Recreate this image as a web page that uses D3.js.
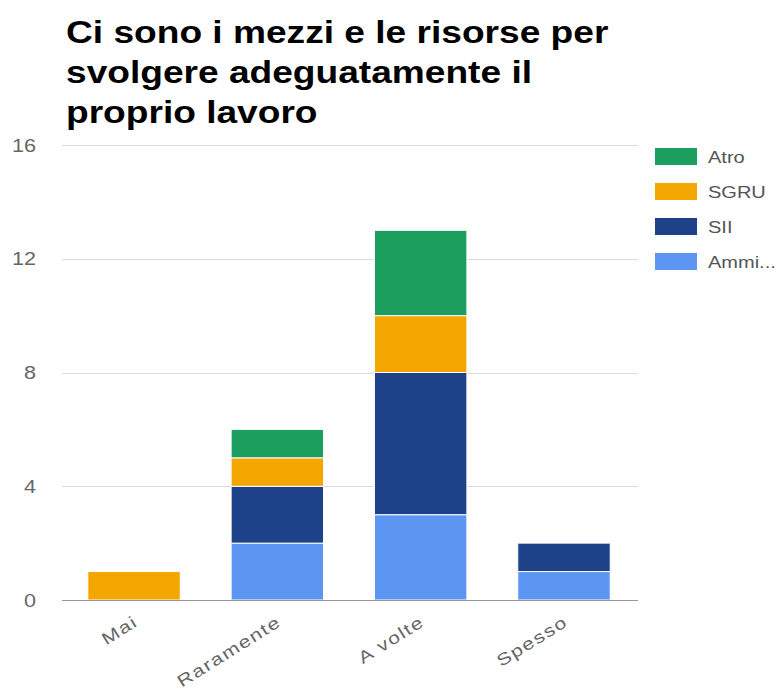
<!DOCTYPE html>
<html>
<head>
<meta charset="utf-8">
<script src="https://cdn.jsdelivr.net/npm/d3@7"></script>
<style>
  html, body { margin: 0; padding: 0; background: #fff; }
  svg { display: block; font-family: "Liberation Sans", Arial, sans-serif; }
</style>
</head>
<body>
<svg id="chart" width="778" height="696"></svg>
<script>
// Answers per frequency, stacked by office
const categories = ["Mai", "Raramente", "A volte", "Spesso"];
const seriesNames = ["Ammi...", "SII", "SGRU", "Atro"];
const ammi = [0, 2, 3, 1];
const sii  = [0, 2, 5, 1];
const sgru = [1, 1, 2, 0];
const atro = [0, 1, 3, 0];
const yTicks = [0, 4, 8, 12, 16];
const titleLines = ["Ci sono i mezzi e le risorse per", "svolgere adeguatamente il", "proprio lavoro"];

const colors = {"Ammi...": "#5c95f2", "SII": "#1d428a", "SGRU": "#f3a600", "Atro": "#1b9e5e"};
const valuesBySeries = {"Ammi...": ammi, "SII": sii, "SGRU": sgru, "Atro": atro};

const rows = categories.map((c, i) => {
  const r = {cat: c};
  seriesNames.forEach(s => r[s] = valuesBySeries[s][i]);
  return r;
});

const svg = d3.select("#chart");
const margin = {left: 62, right: 142, top: 145, bottom: 96};
const W = 778, H = 696;
const wide = 1.2; // horizontal stretch of the lettering

const x = d3.scaleBand().domain(categories)
  .range([margin.left, W - margin.right]).paddingInner(0.355).paddingOuter(0.18);
const y = d3.scaleLinear().domain([0, 16]).range([H - margin.bottom, margin.top]);

// Title
svg.append("g").selectAll("text").data(titleLines).join("text")
  .attr("transform", (d, i) => `translate(66,${43 + i * 40}) scale(1.16,1)`)
  .attr("font-size", 32).attr("font-weight", "bold").attr("fill", "#000")
  .text(d => d);

// Gridlines
svg.append("g").selectAll("line").data(yTicks).join("line")
  .attr("x1", margin.left).attr("x2", W - margin.right + 2)
  .attr("y1", d => Math.round(y(d)) + 0.5).attr("y2", d => Math.round(y(d)) + 0.5)
  .attr("stroke", d => d === 0 ? "none" : "#dcdcdc");

// Y labels
svg.append("g").selectAll("text").data(yTicks).join("text")
  .attr("transform", d => `translate(36,${y(d) + 6.5}) scale(${wide},1)`)
  .attr("text-anchor", "end").attr("font-size", 18).attr("fill", "#666")
  .text(d => d);

// Stacked bars
const stack = d3.stack().keys(seriesNames)(rows);
svg.append("g").selectAll("g").data(stack).join("g")
  .attr("fill", d => colors[d.key])
  .selectAll("rect").data(d => d).join("rect")
  .attr("x", d => x(d.data.cat))
  .attr("width", x.bandwidth())
  .attr("y", d => y(d[1]))
  .attr("height", d => Math.max(0, y(d[0]) - y(d[1])))
  .attr("stroke", "#fff").attr("stroke-width", d => (d[1] - d[0]) > 0 ? 1 : 0);

// Baseline
svg.append("line")
  .attr("x1", margin.left).attr("x2", W - margin.right + 2)
  .attr("y1", y(0) + 0.5).attr("y2", y(0) + 0.5)
  .attr("stroke", "#999").attr("stroke-width", 1.2);

// X labels, rotated
const xAxis = svg.append("g").attr("transform", `translate(0,${y(0)})`)
  .call(d3.axisBottom(x).tickSize(0));
xAxis.select(".domain").remove();
xAxis.selectAll(".tick text")
  .attr("font-size", 17).attr("fill", "#666")
  .attr("font-family", "'Liberation Sans', Arial, sans-serif")
  .attr("text-anchor", "end")
  .attr("letter-spacing", 1.2)
  .attr("x", 0).attr("y", 0).attr("dy", 0)
  .attr("transform", "translate(5,25) rotate(-32) scale(1.25,1)");

// Legend
const legendOrder = ["Atro", "SGRU", "SII", "Ammi..."];
const lg = svg.append("g").selectAll("g").data(legendOrder).join("g")
  .attr("transform", (d, i) => `translate(655,${148 + i * 35})`);
lg.append("rect").attr("width", 42).attr("height", 17).attr("fill", d => colors[d]);
lg.append("text").attr("transform", `translate(53,15) scale(1.25,1)`)
  .attr("font-size", 16).attr("fill", "#555")
  .text(d => d);
</script>
</body>
</html>
